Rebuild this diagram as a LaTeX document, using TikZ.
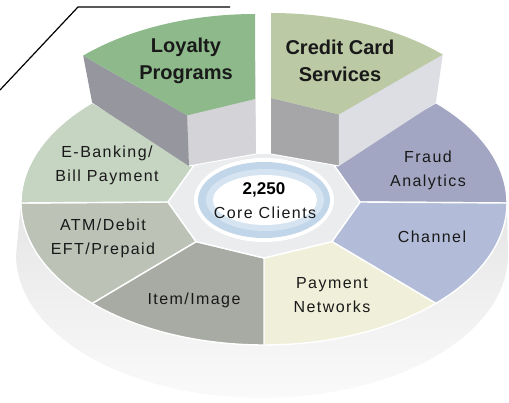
\documentclass[tikz,border=0pt]{standalone}
\usepackage{fontspec}
\setmainfont{Liberation Sans}
\newfontfamily\lblfont[LetterSpace=9]{Liberation Sans}
\usetikzlibrary{calc}
\definecolor{loy}{RGB}{141,185,139}
\definecolor{cc}{RGB}{187,201,165}
\definecolor{loyrad}{RGB}{150,150,158}
\definecolor{loyin}{RGB}{212,212,216}
\definecolor{ccin}{RGB}{166,166,169}
\definecolor{ccrad}{RGB}{220,222,228}
\definecolor{eb}{RGB}{198,212,194}
\definecolor{atm}{RGB}{188,194,182}
\definecolor{item}{RGB}{168,170,164}
\definecolor{pay}{RGB}{240,240,218}
\definecolor{chan}{RGB}{178,188,216}
\definecolor{fraud}{RGB}{162,166,194}
\definecolor{hub}{RGB}{234,236,238}
\definecolor{ringc}{RGB}{194,214,234}
\definecolor{ringmid}{RGB}{214,228,242}
\newcommand\lowseg[3]{\filldraw[sep, fill=#3] plot[domain=#1:#2,samples=40] ({264+243*cos(\x)},{203-142*sin(\x)}) -- (i#2) -- (i#1) -- cycle;}
\begin{document}
\begin{tikzpicture}[x=1pt,y=-1pt,
  sep/.style={draw=white, line width=1.4pt, line join=round},
  lbl/.style={font=\lblfont\fontsize{16}{24}\selectfont, align=center, text=black!90, inner sep=0pt},
  big/.style={font=\bfseries\fontsize{20}{27}\selectfont, align=center, text=black!90, inner sep=0pt}]
\useasboundingbox (0,0) rectangle (509,403);
% disc side
\shade[top color=gray!32, bottom color=gray!4] plot[domain=180:360,samples=60] ({262+246*cos(\x)},{255-143*sin(\x)}) -- plot[domain=0:180,samples=60] ({264+243*cos(\x)},{203-142*sin(\x)}) -- cycle;
% reference points
\foreach \a in {0,45,...,360}{
  \coordinate (o\a) at ({264+243*cos(\a)},{203-142*sin(\a)});
  \coordinate (i\a) at ({264+96*cos(\a)},{202-56*sin(\a)});}
\coordinate (lo135) at ($(o135)+(-9,-47)$);
\coordinate (li135) at ($(i135)+(-9,-47)$);
\coordinate (li90) at ($(i90)+(-9,-47)$);
\coordinate (co45) at ($(o45)+(7,-48)$);
\coordinate (ci45) at ($(i45)+(7,-48)$);
\coordinate (ci90) at ($(i90)+(7,-48)$);
\coordinate (lb135) at (189,166);
\coordinate (lb90) at (256,154);
\coordinate (cb90) at (271,154);
\coordinate (cb45) at (339,166);
% lower segments
\lowseg{0}{45}{fraud}
\lowseg{315}{360}{chan}
\lowseg{270}{315}{pay}
\lowseg{225}{270}{item}
\lowseg{180}{225}{atm}
\lowseg{135}{180}{eb}
% hub
\filldraw[sep, fill=hub] (i0) -- (i45) -- (i90) -- (i135) -- (i180) -- (i225) -- (i270) -- (i315) -- cycle;
% raised segments
\fill[white] (255,0) -- (272,0) -- (cb90) -- (lb90) -- cycle;
\fill[loyin] (li135) -- (li90) -- (lb90) -- (lb135) -- cycle;
\fill[loyrad] (lo135) -- (li135) -- (lb135) -- (o135) -- cycle;
\fill[ccin] (ci90) -- (ci45) -- (cb45) -- (cb90) -- cycle;
\fill[ccrad] (co45) -- (ci45) -- (cb45) -- (o45) -- cycle;
\fill[loy] plot[domain=90:135,samples=30] ({255+243*cos(\x)},{156-142*sin(\x)}) -- (li135) -- (li90) -- cycle;
\fill[cc] plot[domain=45:90,samples=30] ({271+243*cos(\x)},{155-142*sin(\x)}) -- (ci90) -- (ci45) -- cycle;
\draw[white, line width=1pt] (lb135) -- (lb90) (cb90) -- (cb45);
% centre ring
\fill[white] (264,200) ellipse [x radius=70, y radius=42];
\fill[ringc] (264,200) ellipse [x radius=66, y radius=38];
\fill[ringmid] (265,200) ellipse [x radius=59, y radius=31];
\fill[white] (265,200) ellipse [x radius=52, y radius=25];
% labels
\node[big] (loyl) at (186,61) {Loyalty\\Programs};
\node[big] (ccl) at (340,61) {Credit Card\\Services};
\node[lbl] (ebl) at (107,165) {E-Banking/\\Bill Payment};
\node[lbl] (atml) at (103,238) {ATM/Debit\\EFT/Prepaid};
\node[lbl] (iteml) at (194,300) {Item/Image};
\node[lbl] (payl) at (332,295) {Payment\\Networks};
\node[lbl] (chanl) at (432,237) {Channel};
\node[lbl] (fraudl) at (428,170) {Fraud\\Analytics};
\node[font=\bfseries\fontsize{17}{19}\selectfont, inner sep=0pt] (num) at (264,190) {2,250};
\node[lbl, font=\lblfont\fontsize{16}{18}\selectfont] (core) at (265,213) {Core Clients};
% top-left line
\coordinate (l1) at (0,90);
\coordinate (l2) at (78,7);
\coordinate (l3) at (230,7);
\draw[line width=1.2pt] (l1) -- (l2) -- (l3);
\end{tikzpicture}
\end{document}
